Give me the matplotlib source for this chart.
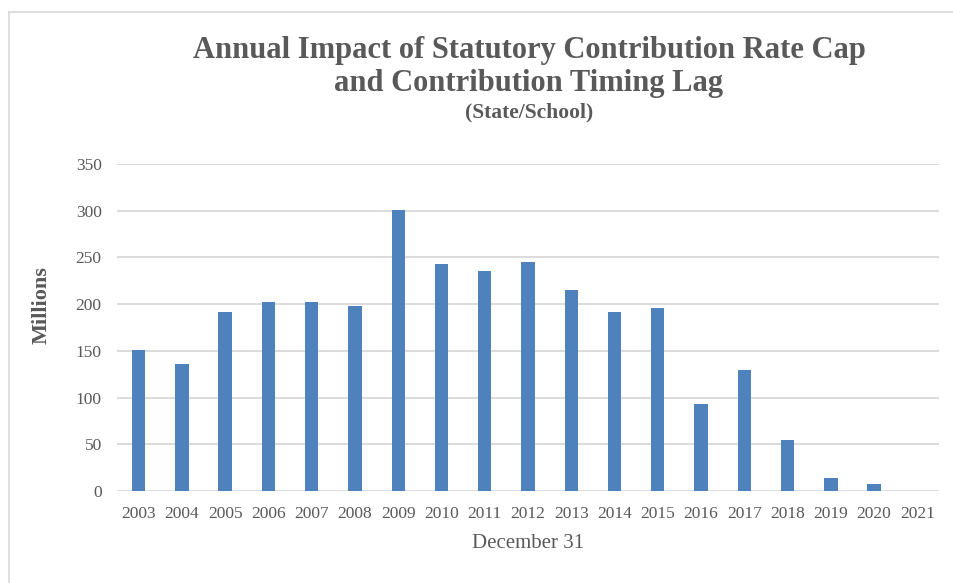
import matplotlib as mpl
mpl.use('Agg')
import matplotlib.pyplot as plt
import numpy as np

years = ["2003", "2004", "2005", "2006", "2007", "2008", "2009", "2010", "2011", "2012",
         "2013", "2014", "2015", "2016", "2017", "2018", "2019", "2020", "2021"]
impact = [151, 136, 192, 202, 202, 198, 301, 243, 235, 245,
          215, 192, 196, 93, 130, 55, 14, 8, 0]
yticks = [0, 50, 100, 150, 200, 250, 300, 350]

plt.rcParams['font.family'] = ['Liberation Serif', 'DejaVu Serif']
grey = '#595959'
W, H = 954, 583

fig = plt.figure(figsize=(W / 100, H / 100), dpi=100)
ax = fig.add_axes([117/W, 1 - 491/H, (939-117)/W, (491-164)/H])

x = np.arange(len(years))
ax.bar(x, impact, width=0.31, color='#4f81bd', zorder=3)

ax.set_xlim(-0.5, len(years) - 0.5)
ax.set_ylim(0, 350)
ax.set_yticks(yticks)
ax.set_xticks(x)
ax.set_xticklabels(years)
ax.grid(axis='y', color='#d9d9d9', linewidth=1.3, zorder=0)
for s in ax.spines.values():
    s.set_visible(False)
ax.tick_params(length=0, labelsize=12.5, colors=grey)
ax.tick_params(axis='x', pad=11)
ax.tick_params(axis='y', pad=11)

# axis titles
fig.text(528/W, 1 - 544/H, "December 31", ha='center', va='center',
         fontsize=15, color=grey)
fig.text(42/W, 1 - 305/H, "Millions", ha='center', va='center', rotation=90,
         fontsize=16, fontweight='bold', color=grey)

# chart title
fig.text(529/W, 1 - 58/H, "Annual Impact of Statutory Contribution Rate Cap",
         ha='center', va='baseline', fontsize=22, fontweight='bold', color=grey)
fig.text(529/W, 1 - 91/H, "and Contribution Timing Lag",
         ha='center', va='baseline', fontsize=22, fontweight='bold', color=grey)
fig.text(529/W, 1 - 117/H, "(State/School)",
         ha='center', va='baseline', fontsize=15.5, fontweight='bold', color=grey)

# chart area border (only top and left visible in crop)
fig.add_artist(plt.Line2D([9/W, 1], [1 - 12/H, 1 - 12/H], color='#d9d9d9', lw=1.2))
fig.add_artist(plt.Line2D([9/W, 9/W], [0, 1 - 12/H], color='#d9d9d9', lw=1.2))

fig.savefig('out.png', dpi=100)
